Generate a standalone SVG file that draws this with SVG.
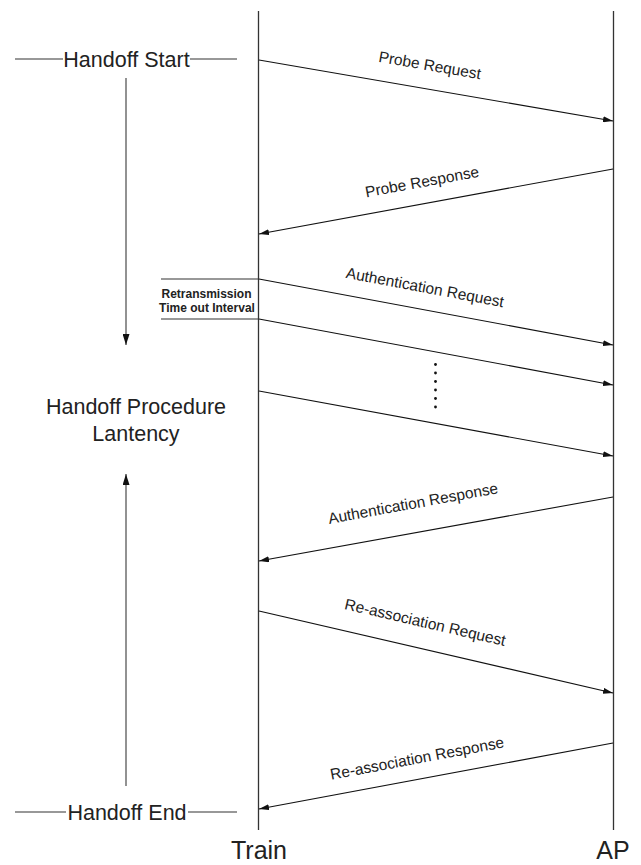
<svg xmlns="http://www.w3.org/2000/svg" width="641" height="865" viewBox="0 0 641 865">
<style>
text{font-family:"Liberation Sans",Arial,sans-serif;fill:#222}
.life{stroke:#333;stroke-width:1.3;fill:none}
.msg{stroke:#111;stroke-width:1.1;fill:none;marker-end:url(#ah)}
.lbl{font-size:15.5px;text-anchor:middle}
.rule{stroke:#333;stroke-width:1.2}
.garrow{stroke:#777;stroke-width:1.6;marker-end:url(#ah2)}
</style>
<defs>
<marker id="ah" viewBox="0 0 10 6" refX="10" refY="3" markerWidth="10" markerHeight="6" markerUnits="userSpaceOnUse" orient="auto"><path d="M0,0 L10,3 L0,6 Z" fill="#111"/></marker>
<marker id="ah2" viewBox="0 0 11 7" refX="11" refY="3.5" markerWidth="11" markerHeight="7" markerUnits="userSpaceOnUse" orient="auto"><path d="M0,0 L11,3.5 L0,7 Z" fill="#111"/></marker>
</defs>
<g id="train">
<line class="life" x1="258.5" y1="11" x2="258.5" y2="830"/>
<text x="259" y="859" font-size="25" text-anchor="middle">Train</text>
</g>
<g id="ap">
<line class="life" x1="613.5" y1="11" x2="613.5" y2="830"/>
<text x="613" y="859" font-size="25" text-anchor="middle">AP</text>
</g>
<g id="handoff-start">
<line class="rule" x1="15" y1="59" x2="63" y2="59"/>
<text x="126.5" y="66.5" font-size="21.5" text-anchor="middle">Handoff Start</text>
<line class="rule" x1="190" y1="59" x2="237" y2="59"/>
</g>
<g id="handoff-end">
<line class="rule" x1="15" y1="812" x2="66" y2="812"/>
<text x="127" y="819.5" font-size="21.5" text-anchor="middle">Handoff End</text>
<line class="rule" x1="188" y1="812" x2="237" y2="812"/>
</g>
<g id="latency">
<text x="136" y="414" font-size="21.5" text-anchor="middle">Handoff Procedure</text>
<text x="136" y="441" font-size="21.5" text-anchor="middle">Lantency</text>
</g>
<g id="retransmission">
<line class="rule" x1="161" y1="279" x2="258" y2="279"/>
<line class="rule" x1="161" y1="319" x2="258" y2="319"/>
<text x="206.5" y="297.5" font-size="12" font-weight="bold" text-anchor="middle">Retransmission</text>
<text x="207" y="311.5" font-size="12" font-weight="bold" text-anchor="middle">Time out Interval</text>
</g>
<g id="dots" fill="#111">
<circle cx="435.5" cy="364.5" r="1.4"/>
<circle cx="435.5" cy="373" r="1.4"/>
<circle cx="435.5" cy="381.5" r="1.4"/>
<circle cx="435.5" cy="390" r="1.4"/>
<circle cx="435.5" cy="398.5" r="1.4"/>
<circle cx="435.5" cy="407" r="1.4"/>
</g>
<g id="connectors">
<line class="garrow" x1="126" y1="78" x2="126" y2="345"/>
<line class="garrow" x1="126" y1="786" x2="126" y2="474"/>
<line class="msg" x1="259" y1="60" x2="613" y2="121"/>
<line class="msg" x1="613" y1="169" x2="259" y2="234"/>
<line class="msg" x1="259" y1="279" x2="613" y2="345"/>
<line class="msg" x1="259" y1="319" x2="613" y2="385"/>
<line class="msg" x1="259" y1="391" x2="613" y2="456"/>
<line class="msg" x1="613" y1="497" x2="259" y2="561"/>
<line class="msg" x1="259" y1="611" x2="613" y2="693"/>
<line class="msg" x1="613" y1="743" x2="259" y2="809"/>
</g>
<g id="labels">
<text class="lbl" transform="translate(429,70.5) rotate(9.8)">Probe Request</text>
<text class="lbl" transform="translate(423,187) rotate(-10.4)">Probe Response</text>
<text class="lbl" transform="translate(424,292.5) rotate(10.6)">Authentication Request</text>
<text class="lbl" transform="translate(414,508.5) rotate(-10.3)">Authentication Response</text>
<text class="lbl" transform="translate(424,627.5) rotate(13)">Re-association Request</text>
<text class="lbl" transform="translate(418,763.5) rotate(-10.6)">Re-association Response</text>
</g>
</svg>
